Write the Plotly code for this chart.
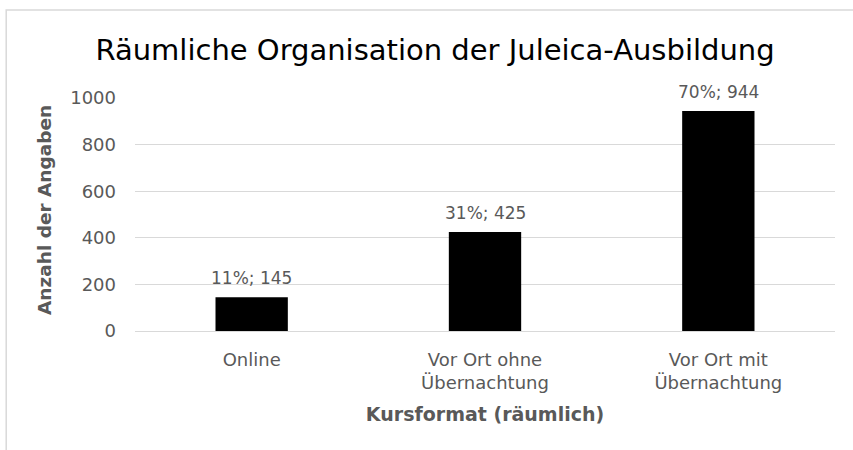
import plotly.graph_objects as go

categories = ["Online", "Vor Ort ohne<br>Übernachtung", "Vor Ort mit<br>Übernachtung"]
counts = [145, 425, 944]
percents = ["11%", "31%", "70%"]
y_ticks = [0, 200, 400, 600, 800, 1000]

labels = [f"{p}; {c}" for p, c in zip(percents, counts)]
FONT = "DejaVu Sans, sans-serif"
GRAY = "#595959"

fig = go.Figure()
fig.add_trace(go.Bar(
    x=categories, y=counts,
    marker=dict(color="black", line=dict(width=0)),
    width=0.31,
    cliponaxis=False,
    hoverinfo="skip",
))

for cat, val, lab in zip(categories, counts, labels):
    fig.add_annotation(x=cat, y=val, text=lab, showarrow=False,
                       yanchor="bottom", yshift=7,
                       font=dict(family=FONT, size=17, color=GRAY))

# y-axis title as annotation for exact placement
fig.add_annotation(xref="paper", yref="paper", x=(44 - 135) / 700, y=(331 - 210) / 233,
                   text="<b>Anzahl der Angaben</b>", textangle=-90, showarrow=False,
                   xanchor="center", yanchor="middle",
                   font=dict(family=FONT, size=18.5, color=GRAY))

fig.update_layout(
    width=853, height=450,
    margin=dict(l=135, r=18, t=98, b=119),
    paper_bgcolor="white", plot_bgcolor="white",
    showlegend=False,
    title=dict(text="Räumliche Organisation der Juleica-Ausbildung",
               x=435 / 853, xanchor="center", y=1 - 50 / 450, yanchor="middle",
               font=dict(family=FONT, size=29, color="black")),
    xaxis=dict(
        title=dict(text="<b>Kursformat (räumlich)</b>", standoff=15,
                   font=dict(family=FONT, size=19, color=GRAY)),
        tickfont=dict(family=FONT, size=18, color=GRAY),
        showline=False, ticks="", ticklabelstandoff=16,
    ),
    yaxis=dict(
        range=[0, 1000], tickvals=y_ticks,
        tickfont=dict(family=FONT, size=18, color=GRAY),
        gridcolor="#d9d9d9", gridwidth=1,
        zeroline=True, zerolinecolor="#d9d9d9", zerolinewidth=1,
        ticks="", ticklabelstandoff=18,
    ),
)

fig.add_shape(type="rect", xref="paper", yref="paper",
              x0=-0.184, x1=1.2, y0=-0.7, y1=1.378,
              line=dict(color="#d9d9d9", width=1.5), fillcolor="rgba(0,0,0,0)",
              layer="below")

fig.write_html("out.html", config={"displayModeBar": False},
               post_script="document.body.style.margin='0';document.body.style.padding='0';")
